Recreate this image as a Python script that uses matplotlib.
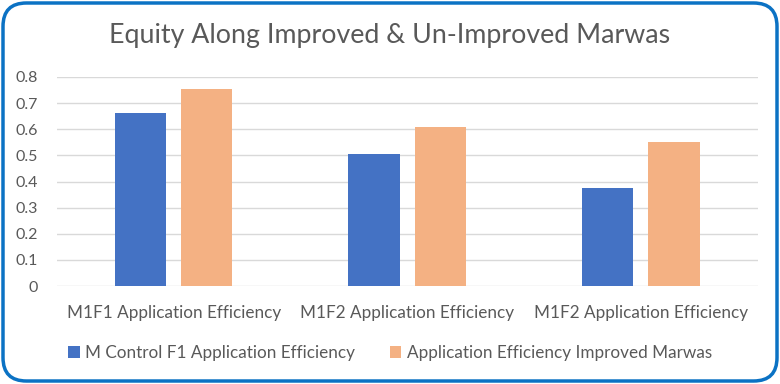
import matplotlib.pyplot as plt
import numpy as np
from matplotlib.patches import FancyBboxPatch

categories = ["M1F1 Application Efficiency", "M1F2 Application Efficiency", "M1F2 Application Efficiency"]
control = [0.662, 0.505, 0.377]
improved = [0.754, 0.609, 0.551]
series_names = ["M Control F1 Application Efficiency", "Application Efficiency Improved Marwas"]

plt.rcParams["font.family"] = ["Lato", "DejaVu Sans"]

fig = plt.figure(figsize=(7.8, 3.84), dpi=100)
ax = fig.add_axes([57 / 780, 1 - 286 / 384, (758 - 57) / 780, (286 - 77) / 384])

x = np.arange(len(categories))
w = 0.22
ax.bar(x - 0.143, control, w, color="#4472C4", label=series_names[0], zorder=3)
ax.bar(x + 0.141, improved, w, color="#F4B183", label=series_names[1], zorder=3)

ax.set_xlim(-0.5, 2.5)
ax.set_ylim(0, 0.8)
ax.set_yticks(np.arange(0, 0.81, 0.1))
ax.set_yticklabels(["0"] + [f"{v:.1f}" for v in np.arange(0.1, 0.81, 0.1)])
ax.set_xticks(x)
ax.set_xticklabels(categories)
ax.grid(axis="y", color="#D9D9D9", linewidth=1, zorder=0)
for s in ax.spines.values():
    s.set_visible(False)
ax.tick_params(length=0, colors="#595959")
ax.tick_params(axis="x", labelsize=12.3, pad=14)
ax.tick_params(axis="y", labelsize=11.5, pad=14)

fig.text(0.5, 1 - 36 / 384, "Equity Along Improved & Un-Improved Marwas",
         ha="center", va="center", fontsize=19.3, color="#595959")

fig.legend(loc="center", bbox_to_anchor=(0.5, 1 - 353 / 384), ncol=2, frameon=False,
           fontsize=12.3, labelcolor="#595959", handlelength=0.7, handleheight=0.7,
           handletextpad=0.3, columnspacing=2.0)

border = FancyBboxPatch((3 / 780, 3 / 384), 774 / 780, 378 / 384,
                        boxstyle="round,pad=0,rounding_size=0.03",
                        transform=fig.transFigure, facecolor="none",
                        edgecolor="#0B72C4", linewidth=2.5, mutation_aspect=780 / 384)
fig.patches.append(border)

fig.savefig("out.png", dpi=100)
